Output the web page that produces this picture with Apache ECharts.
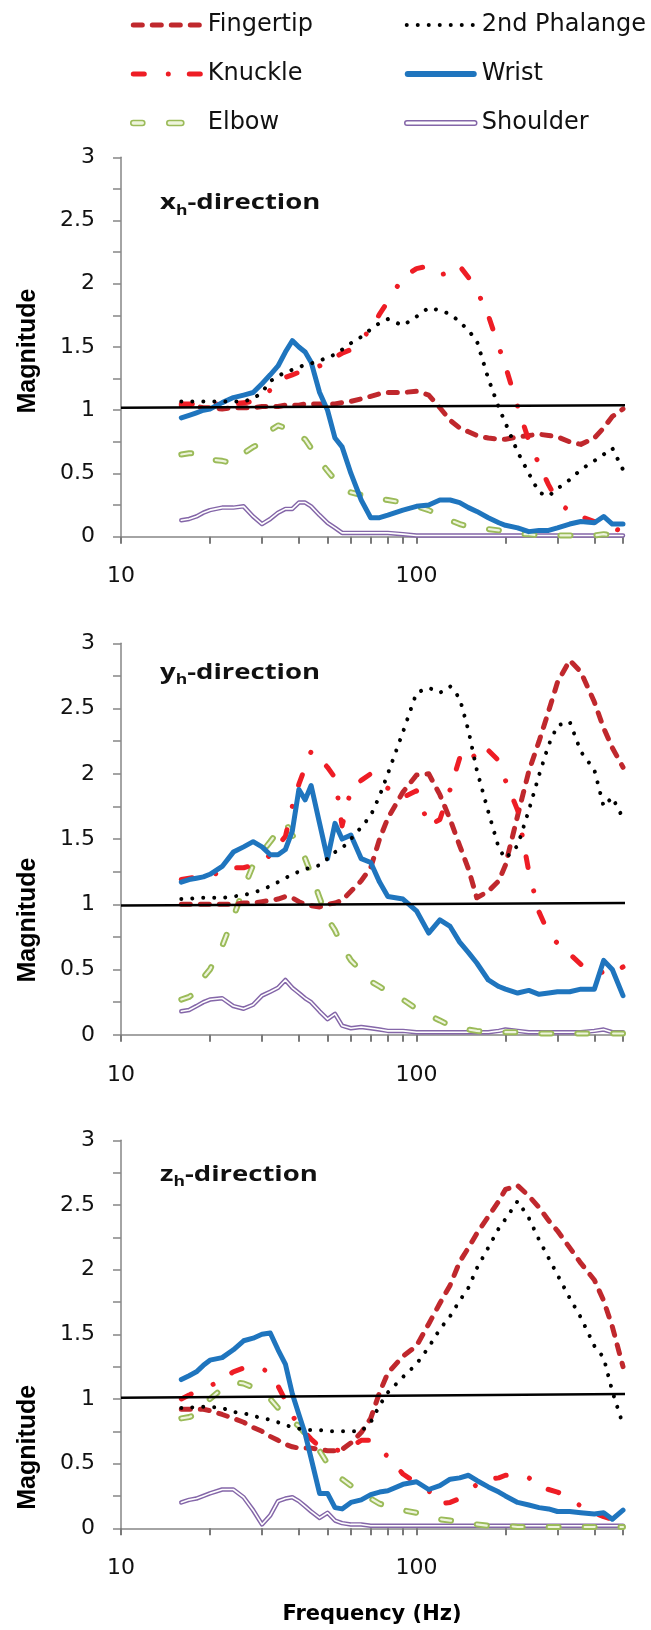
<!DOCTYPE html>
<html><head><meta charset="utf-8">
<script src="https://cdn.jsdelivr.net/npm/echarts@6/dist/echarts.min.js"></script>
<style>html,body{margin:0;padding:0;background:#fff}#c{width:651px;height:1630px}</style>
</head><body><div id="c"></div>
<script>
// ---------- DATA ----------
const freq = [16,17,18,19,20,22,24,26,28,30,32,34,36,38,40,42,44,47,50,53,56,60,65,70,75,80,90,100,110,120,130,140,150,160,175,190,200,220,240,260,280,300,330,360,400,430,460,500];

// x_h-direction
const fingertipX = [1.04,1.04,1.03,1.02,1.02,1.01,1.02,1.02,1.02,1.03, 1.03,1.03,1.04,1.04,1.04,1.05,1.05,1.05,1.05,1.05, 1.06,1.07,1.09,1.11,1.13,1.14,1.14,1.15,1.12,1.02, 0.92,0.86,0.83,0.80,0.78,0.77,0.77,0.79,0.80,0.81, 0.80,0.79,0.75,0.73,0.78,0.86,0.95,1.01];
const knuckleX   = [1.05,1.05,1.05,1.05,1.05,1.05,1.05,1.06,1.07,1.10, 1.16,1.22,1.26,1.28,1.30,1.31,1.33,1.35,1.38,1.42, 1.45,1.48,1.56,1.64,1.76,1.86,2.05,2.12,2.14,2.07, 2.09,2.14,2.05,1.95,1.75,1.50,1.35,1.03,0.76,0.57, 0.41,0.28,0.20,0.16,0.12,0.08,0.07,0.04];
const phalangeX  = [1.07,1.07,1.07,1.07,1.07,1.07,1.07,1.07,1.09,1.14, 1.23,1.27,1.30,1.32,1.34,1.36,1.37,1.39,1.42,1.44, 1.48,1.53,1.58,1.64,1.69,1.72,1.67,1.74,1.81,1.79, 1.76,1.70,1.63,1.55,1.25,1.02,0.90,0.67,0.50,0.35, 0.32,0.38,0.45,0.53,0.60,0.65,0.70,0.53];
const wristX     = [0.94,0.96,0.98,1.00,1.01,1.06,1.10,1.12,1.14,1.21, 1.28,1.35,1.46,1.55,1.50,1.46,1.38,1.14,1.00,0.78, 0.71,0.50,0.29,0.15,0.15,0.17,0.21,0.24,0.25,0.29, 0.29,0.27,0.23,0.20,0.15,0.11,0.09,0.07,0.04,0.05, 0.05,0.07,0.10,0.12,0.11,0.16,0.10,0.10];
const elbowX     = [0.65,0.66,0.66,0.64,0.61,0.60,0.58,0.66,0.71,0.74, 0.84,0.88,0.86,0.81,0.80,0.77,0.70,0.60,0.52,0.45, 0.38,0.35,0.33,0.32,0.30,0.29,0.27,0.24,0.21,0.17, 0.13,0.10,0.08,0.07,0.06,0.05,0.04,0.02,0.02,0.01, 0.01,0.01,0.01,0.01,0.01,0.02,0.01,0.01];
const shoulderX  = [0.13,0.14,0.16,0.19,0.21,0.23,0.23,0.24,0.16,0.10, 0.14,0.19,0.22,0.22,0.27,0.27,0.24,0.17,0.11,0.07, 0.03,0.03,0.03,0.03,0.03,0.03,0.02,0.01,0.01,0.01, 0.01,0.01,0.01,0.01,0.01,0.01,0.01,0.01,0.01,0.01, 0.01,0.01,0.01,0.01,0.01,0.01,0.01,0.01];

// y_h-direction
const fingertipY = [1.00,1.00,1.00,1.00,1.00,1.00,1.00,1.01,1.01,1.02, 1.03,1.04,1.06,1.05,1.02,1.00,0.99,0.98,1.00,1.01, 1.03,1.10,1.18,1.28,1.50,1.66,1.86,1.99,2.00,1.84, 1.65,1.45,1.27,1.05,1.10,1.18,1.30,1.68,2.02,2.25, 2.48,2.70,2.87,2.78,2.55,2.35,2.20,2.05];
const knuckleY   = [1.19,1.20,1.21,1.22,1.22,1.25,1.28,1.28,1.30,1.32, 1.38,1.45,1.52,1.75,1.92,2.05,2.17,2.12,2.05,1.97, 1.60,1.88,1.95,2.00,1.92,1.89,1.82,1.87,1.60,1.65, 1.88,2.12,2.20,2.10,2.18,2.10,1.95,1.72,1.25,0.94, 0.78,0.70,0.62,0.54,0.47,0.48,0.47,0.52];
const phalangeY  = [1.04,1.04,1.05,1.05,1.05,1.05,1.06,1.07,1.09,1.11, 1.14,1.17,1.20,1.23,1.25,1.27,1.28,1.30,1.35,1.40, 1.43,1.50,1.59,1.68,1.83,2.00,2.32,2.62,2.66,2.62, 2.67,2.58,2.33,2.03,1.71,1.43,1.35,1.45,1.72,1.99, 2.22,2.37,2.40,2.17,2.03,1.75,1.82,1.66];
const wristY     = [1.17,1.19,1.20,1.21,1.23,1.29,1.40,1.44,1.48,1.44, 1.38,1.38,1.42,1.56,1.88,1.80,1.91,1.62,1.35,1.62, 1.50,1.53,1.35,1.32,1.17,1.06,1.04,0.95,0.78,0.88, 0.83,0.71,0.63,0.55,0.42,0.37,0.35,0.32,0.34,0.31, 0.32,0.33,0.33,0.35,0.35,0.57,0.50,0.30];
const elbowY     = [0.27,0.29,0.33,0.44,0.50,0.68,0.90,1.12,1.30,1.40, 1.48,1.56,1.63,1.53,1.47,1.35,1.23,1.05,0.89,0.80, 0.68,0.57,0.49,0.41,0.37,0.33,0.27,0.20,0.15,0.11, 0.07,0.05,0.04,0.03,0.02,0.02,0.02,0.02,0.01,0.01, 0.01,0.01,0.01,0.01,0.01,0.02,0.01,0.01];
const shoulderY  = [0.18,0.19,0.22,0.25,0.27,0.28,0.22,0.20,0.23,0.30, 0.33,0.36,0.42,0.36,0.32,0.28,0.25,0.18,0.12,0.16, 0.07,0.05,0.06,0.05,0.04,0.03,0.03,0.02,0.02,0.02, 0.02,0.02,0.02,0.02,0.02,0.03,0.04,0.03,0.02,0.02, 0.02,0.02,0.02,0.02,0.03,0.04,0.02,0.02];

// z_h-direction
const fingertipZ = [0.92,0.92,0.92,0.92,0.91,0.88,0.85,0.82,0.78,0.75, 0.71,0.68,0.65,0.63,0.62,0.62,0.62,0.61,0.60,0.60, 0.61,0.66,0.74,0.85,1.05,1.20,1.33,1.41,1.58,1.74, 1.88,2.06,2.17,2.28,2.41,2.53,2.62,2.65,2.57,2.48, 2.38,2.30,2.17,2.05,1.92,1.76,1.56,1.25];
const knuckleZ   = [1.00,1.03,1.06,1.08,1.10,1.15,1.21,1.24,1.25,1.24, 1.19,1.10,0.99,0.87,0.80,0.74,0.69,0.63,0.61,0.60, 0.61,0.63,0.68,0.68,0.63,0.55,0.42,0.35,0.29,0.19, 0.20,0.23,0.28,0.34,0.38,0.39,0.41,0.42,0.39,0.33, 0.30,0.28,0.24,0.17,0.12,0.09,0.07,0.04];
const phalangeZ  = [0.93,0.93,0.94,0.94,0.94,0.93,0.90,0.89,0.87,0.85, 0.84,0.82,0.80,0.78,0.77,0.76,0.76,0.76,0.75,0.75, 0.75,0.75,0.75,0.82,0.95,1.05,1.17,1.27,1.40,1.54, 1.64,1.76,1.86,2.01,2.17,2.32,2.39,2.53,2.40,2.23, 2.09,1.96,1.78,1.63,1.41,1.32,1.06,0.80];
const wristZ     = [1.15,1.18,1.21,1.26,1.30,1.32,1.38,1.45,1.47,1.50, 1.51,1.38,1.27,1.04,0.88,0.73,0.54,0.27,0.27,0.16, 0.15,0.20,0.22,0.26,0.28,0.29,0.34,0.36,0.30,0.33, 0.38,0.39,0.41,0.37,0.32,0.28,0.25,0.20,0.18,0.16, 0.15,0.13,0.13,0.12,0.11,0.12,0.07,0.14];
const elbowZ     = [0.85,0.86,0.88,0.95,1.00,1.08,1.13,1.12,1.09,1.05, 1.00,0.93,0.86,0.83,0.79,0.73,0.66,0.60,0.50,0.42, 0.38,0.33,0.28,0.23,0.19,0.17,0.14,0.12,0.09,0.07, 0.06,0.05,0.04,0.03,0.02,0.02,0.02,0.01,0.01,0.01, 0.01,0.01,0.01,0.01,0.01,0.02,0.01,0.01];
const shoulderZ  = [0.20,0.22,0.23,0.25,0.27,0.30,0.30,0.24,0.14,0.03, 0.10,0.21,0.23,0.24,0.21,0.17,0.13,0.08,0.12,0.06, 0.04,0.03,0.03,0.02,0.02,0.02,0.02,0.02,0.02,0.02, 0.02,0.02,0.02,0.02,0.02,0.02,0.02,0.02,0.02,0.02, 0.02,0.02,0.02,0.02,0.02,0.02,0.02,0.02];

// hand-drawn reference lines at magnitude 1 (extend a little past the axis)
const refLineX = [[10, 1.02], [578, 1.04]];
const refLineY = [[10, 0.99], [578, 1.01]];
const refLineZ = [[10, 1.01], [578, 1.04]];

const xTickValues = [10,20,30,40,50,60,70,80,90,100,200,300,400,500];
const xLabelValues = [10, 100];
const X_MIN = 10, X_MAX = 500;
const panelNames = ['x', 'y', 'z'];

// ---------- LAYOUT / STYLE ----------
const grids = [
  {left:121, top:157.3, width:502, height:379.4},
  {left:121, top:643.3, width:502, height:391.5},
  {left:121, top:1140.3, width:502, height:388}
];
const magnitudeShift = [8, 162, 226];
const titleTop = [188, 657.5, 1159.5];
const AX = '#868686';
const C = {
  fingertip:'#C0282D', knuckle:'#EE1D25', phalange:'#000000',
  wrist:'#1F75BE', elbow:'#9BBB59', elbowIn:'#EEF4DD', shoulder:'#8466A8', shoulderIn:'#FFFFFF'
};
const panels = [
  {f:fingertipX,k:knuckleX,p:phalangeX,w:wristX,e:elbowX,s:shoulderX,r:refLineX},
  {f:fingertipY,k:knuckleY,p:phalangeY,w:wristY,e:elbowY,s:shoulderY,r:refLineY},
  {f:fingertipZ,k:knuckleZ,p:phalangeZ,w:wristZ,e:elbowZ,s:shoulderZ,r:refLineZ}
];
const pairs = v => freq.map((f, i) => [f, v[i]]);

function line(name, gi, data, ls, extra) {
  return Object.assign({
    type:'line', name, xAxisIndex:gi, yAxisIndex:gi, data,
    symbol:'none', showSymbol:false, animation:false, silent:true,
    emphasis:{disabled:true},
    lineStyle:Object.assign({cap:'round', join:'round'}, ls)
  }, extra || {});
}

const series = [];
panels.forEach((P, gi) => {
  series.push(line('Shoulder', gi, pairs(P.s), {color:C.shoulder, width:4.5}));
  series.push(line('Shoulder', gi, pairs(P.s), {color:C.shoulderIn, width:1.6}));
  series.push(line('Elbow', gi, pairs(P.e), {color:C.elbow, width:6, type:[10,26]}));
  series.push(line('Elbow', gi, pairs(P.e), {color:C.elbowIn, width:2.2, type:[10,26]}));
  series.push(line('Fingertip', gi, pairs(P.f), {color:C.fingertip, width:5, type:[9,10]}));
  series.push(line('Knuckle', gi, pairs(P.k), {color:C.knuckle, width:5, type:[11,24,0.01,22]}));
  series.push(line('Wrist', gi, pairs(P.w), {color:C.wrist, width:5}));
  series.push(line('2nd Phalange', gi, pairs(P.p), {color:C.phalange, width:4, type:[0.01,11]}));
  series.push(line('ref', gi, P.r, {color:'#000', width:2.5, cap:'butt'}, {clip:false}));
});

// main logarithmic frequency axes (data + labels)
const xAxis = grids.map((g, gi) => ({
  type:'log', logBase:10, min:X_MIN, max:X_MAX, gridIndex:gi,
  axisLine:{show:true, lineStyle:{color:AX, width:1.5}},
  axisTick:{show:false},
  axisLabel:{show:true, customValues:xLabelValues, margin:29, fontFamily:'DejaVu Sans', fontSize:22, color:'#111',
    formatter: v => (xLabelValues.indexOf(Math.round(v)) >= 0 ? String(Math.round(v)) : '')},
  splitLine:{show:false}, minorTick:{show:false},
  name: gi === 2 ? 'Frequency (Hz)' : '', nameLocation:'middle', nameGap:76,
  nameTextStyle:{fontFamily:'DejaVu Sans', fontWeight:'bold', fontSize:21, color:'#000'}
}));
// companion axes in log10 space that carry the 10,20,...,90,100,200,...,500 tick marks
grids.forEach((g, gi) => {
  xAxis.push({
    type:'value', gridIndex:gi, position:'bottom',
    min:Math.log10(X_MIN), max:Math.log10(X_MAX),
    axisLine:{show:false}, axisLabel:{show:false}, splitLine:{show:false},
    axisTick:{show:true, length:7, customValues:xTickValues.map(v => Math.log10(v)), lineStyle:{color:'#7a7a7a', width:2}}
  });
});
const yAxis = grids.map((g, gi) => ({
  type:'value', min:0, max:3, interval:0.25, gridIndex:gi,
  axisLine:{show:true, lineStyle:{color:AX, width:1.5}},
  axisTick:{show:true, length:8, lineStyle:{color:AX, width:1.5}},
  axisLabel:{margin:26, fontFamily:'DejaVu Sans', fontSize:22, color:'#111',
    formatter: v => (Math.round(v * 100) % 50 === 0 ? String(v) : '')},
  splitLine:{show:false},
  name:'Magnitude', nameLocation:'middle', nameGap:80,
  nameTextStyle:{fontFamily:'Liberation Sans', fontWeight:'bold', fontSize:25, color:'#000',
    padding:[0, magnitudeShift[gi], 0, 0]}
}));

// legend icons (style only)
function capsule(x0, x1, h, cy) {
  const r = h / 2, L = x1 - x0 - h;
  return `M${x0 + r},${cy - r}h${L}a${r},${r} 0 0 1 0,${h}h${-L}a${r},${r} 0 0 1 0,${-h}z`;
}
function dot(cx, r, cy) {
  return `M${cx - r},${cy}a${r},${r} 0 1 0 ${2 * r},0a${r},${r} 0 1 0 ${-2 * r},0z`;
}
const BOX = 'M0,0M72,6';
const icons = {
  Fingertip: 'path://' + BOX + capsule(0,14,5,3) + capsule(19,33,5,3) + capsule(38,52,5,3) + capsule(57,71,5,3),
  Knuckle: 'path://' + BOX + capsule(0,16,5,3) + dot(37.5,2.5,3) + capsule(56,72,5,3),
  Elbow: 'path://' + BOX + capsule(0,14,5,3) + capsule(36,53,5,3),
  '2nd Phalange': 'path://' + BOX + [2,13,24,35,46,57,68].map(c => dot(c,2,3)).join(''),
  Wrist: 'path://' + BOX + capsule(0,72,6,3),
  Shoulder: 'path://' + BOX + capsule(0,72,4.5,3)
};
const legendStyle = {
  Fingertip:{color:C.fingertip, borderWidth:0},
  Knuckle:{color:C.knuckle, borderWidth:0},
  Elbow:{color:C.elbowIn, borderColor:C.elbow, borderWidth:1.6},
  '2nd Phalange':{color:C.phalange, borderWidth:0},
  Wrist:{color:C.wrist, borderWidth:0},
  Shoulder:{color:C.shoulderIn, borderColor:C.shoulder, borderWidth:1.5}
};
function legend(left, names) {
  return {
    left, top:10, orient:'vertical', padding:0, itemWidth:72, itemHeight:6, itemGap:19,
    selectedMode:false,
    textStyle:{fontFamily:'DejaVu Sans', fontSize:24, color:'#111', lineHeight:30},
    data:names.map(n => ({name:n, icon:icons[n], itemStyle:legendStyle[n]}))
  };
}

const graphic = panelNames.map((p, i) => ({
  type:'text', x:160, y:titleTop[i], scaleX:1.25, silent:true,
  style:{
    text:`{m|${p}}{s|h}{m|-direction}`, verticalAlign:'top',
    rich:{
      m:{fontFamily:'Open Sans', fontWeight:'bold', fontSize:22, lineHeight:30, fill:'#111'},
      s:{fontFamily:'Open Sans', fontWeight:'bold', fontSize:14, lineHeight:14, verticalAlign:'bottom', fill:'#111'}
    }
  }
}));

const chart = echarts.init(document.getElementById('c'), null, {renderer:'canvas'});
chart.setOption({
  backgroundColor:'#fff', animation:false,
  grid:grids.map(g => Object.assign({outerBoundsMode:'none', containLabel:false}, g)),
  xAxis, yAxis, series,
  legend:[legend(130, ['Fingertip','Knuckle','Elbow']), legend(404, ['2nd Phalange','Wrist','Shoulder'])],
  graphic
});
</script></body></html>
